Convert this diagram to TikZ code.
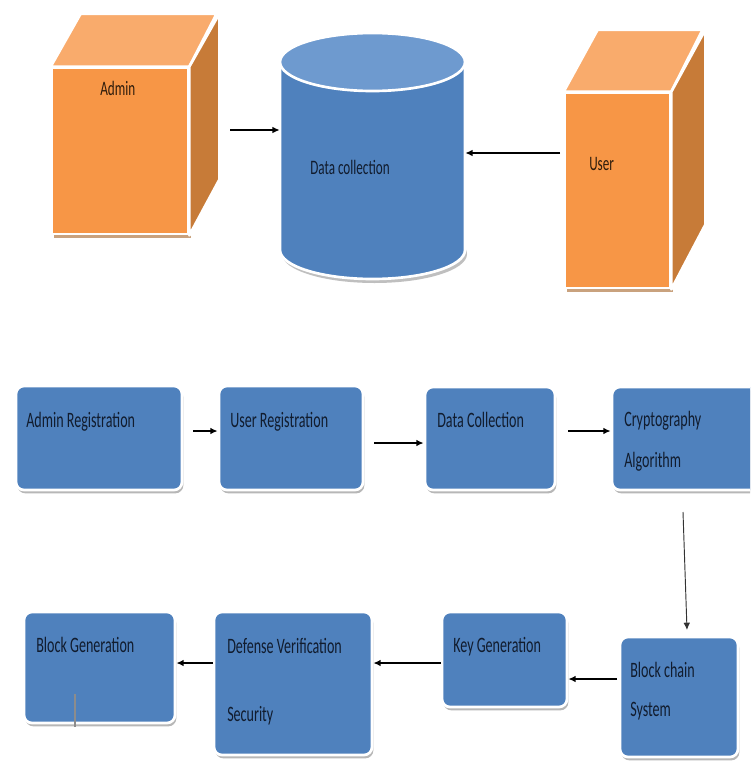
\documentclass[tikz,border=0pt]{standalone}
\usepackage{fontspec}
\newfontfamily\cf[FakeStretch=0.64]{Carlito}
\usetikzlibrary{arrows.meta,shadows,fit}
\definecolor{ofront}{HTML}{F79646}
\definecolor{otop}{HTML}{F9AB6C}
\definecolor{oside}{HTML}{C77B38}
\definecolor{bfill}{HTML}{4F81BD}
\definecolor{btop}{HTML}{6E9ACF}
\definecolor{tnavy}{HTML}{111C2E}
\definecolor{tbrown}{HTML}{2E1C0C}
\definecolor{tan}{HTML}{C9A27E}
\begin{document}
\begin{tikzpicture}[x=0.75pt,y=-0.75pt,
  flow/.style={draw=white, line width=2pt, fill=bfill, rounded corners=6pt, inner sep=0pt,
    drop shadow={shadow xshift=1pt, shadow yshift=-2.5pt, fill=black!35, opacity=0.8}},
  cubefront/.style={draw=white, line width=2pt, fill=ofront, inner sep=0pt},
  face/.style={draw=white, line width=2pt, line join=round},
  lbl/.style={font=\cf\fontsize{16.5}{19}\selectfont, text=tnavy, anchor=base west, inner sep=0pt},
  toplbl/.style={font=\cf\fontsize{15.4}{18}\selectfont, anchor=base west, inner sep=0pt},
  arr/.style={-{Latex[length=5.5pt,width=5pt]}, line width=1.1pt, black}]
\useasboundingbox (0,0) rectangle (750,764);
\fill[white] (0,0) rectangle (750,764);
\begin{scope}
\clip (0,0) rectangle (750,764);

% ---------- Admin cube ----------
\fill[tan] (54,72) rectangle (191,238);
\node[cubefront, fit={(52,68)(188,234)}] (admin) {};
\path[face, fill=otop] (admin.north west) -- ++(30,-53) -- ++(136,0) -- (admin.north east) -- cycle;
\path[face, fill=oside] (admin.north east) -- ++(30,-53) -- ++(0,166) -- (admin.south east) -- cycle;
\node[toplbl, text=tbrown] (tadmin) at (100,95) {Admin};

% ---------- User cube ----------
\fill[tan] (567,97) rectangle (673,292);
\node[cubefront, fit={(565,93)(670,288)}] (user) {};
\path[face, fill=otop] (user.north west) -- ++(34,-62) -- ++(105,0) -- (user.north east) -- cycle;
\path[face, fill=oside] (user.north east) -- ++(34,-62) -- ++(0,195) -- (user.south east) -- cycle;
\node[toplbl, text=tbrown] (tuser) at (589,170) {User};

% ---------- Cylinder ----------
\fill[black!25] (374.5,254) ellipse [x radius=92.5, y radius=29];
\path[face, fill=bfill] (280,62) -- (280,250) arc[start angle=180, end angle=0, x radius=92.5, y radius=29] -- (465,62) -- cycle;
\path[face, fill=btop] (372.5,62) ellipse [x radius=92.5, y radius=29];
\node[inner sep=0pt, fit={(280,33)(465,279)}] (dc) {};
\node[toplbl, text=tnavy] (tdc) at (310,174) {Data collection};

% ---------- top arrows ----------
\coordinate (aout) at (230,130);
\draw[arr] (aout) -- (aout -| dc.west);
\coordinate (uout) at (560,153);
\draw[arr] (uout) -- (uout -| dc.east);

% ---------- flow boxes ----------
\node[flow, fit={(16,386)(182,490)}] (ar) {};
\node[flow, fit={(219,386)(363,490)}] (ur) {};
\node[flow, fit={(425,387)(555,490)}] (dcol) {};
\node[flow, fit={(612,387)(775,490)}] (ca) {};
\node[flow, fit={(620,637)(738,757)}] (bcs) {};
\node[flow, fit={(442,612)(567,707)}] (kg) {};
\node[flow, fit={(214,612)(372,755)}] (dv) {};
\node[flow, fit={(24,612)(175,723)}] (bg) {};

\node[lbl] (tar) at (26,427) {Admin Registration};
\node[lbl] (tur) at (230,427) {User Registration};
\node[lbl] (tdcol) at (437,427) {Data Collection};
\node[lbl] (tca1) at (624,426) {Cryptography};
\node[lbl] (tca2) at (624,467) {Algorithm};
\node[lbl] (tbcs1) at (630,677) {Block chain};
\node[lbl] (tbcs2) at (630,716) {System};
\node[lbl] (tkg) at (453,652) {Key Generation};
\node[lbl] (tdv1) at (227,653) {Defense Verification};
\node[lbl] (tdv2) at (227,721) {Security};
\node[lbl] (tbg) at (36,652) {Block Generation};

\draw[black!45, line width=0.8pt] (75,694) -- (75,727);

% ---------- flow arrows ----------
\coordinate (s1) at (193,431);
\draw[arr] (s1) -- (s1 -| ur.west);
\coordinate (s2) at (374,443);
\draw[arr] (s2) -- (s2 -| dcol.west);
\coordinate (s3) at (568,431);
\draw[arr] (s3) -- (s3 -| ca.west);
\coordinate (s4) at (683,512);
\coordinate (e4) at (687,630);
\draw[-{Latex[length=5.5pt,width=5pt]}, line width=0.7pt, black!80] (s4) -- (e4);
\coordinate (s5) at (617,679);
\draw[arr] (s5) -- (s5 -| kg.east);
\coordinate (s6) at (441,663);
\draw[arr] (s6) -- (s6 -| dv.east);
\coordinate (s7) at (213,663);
\draw[arr] (s7) -- (s7 -| bg.east);
\end{scope}
\end{tikzpicture}
\end{document}
